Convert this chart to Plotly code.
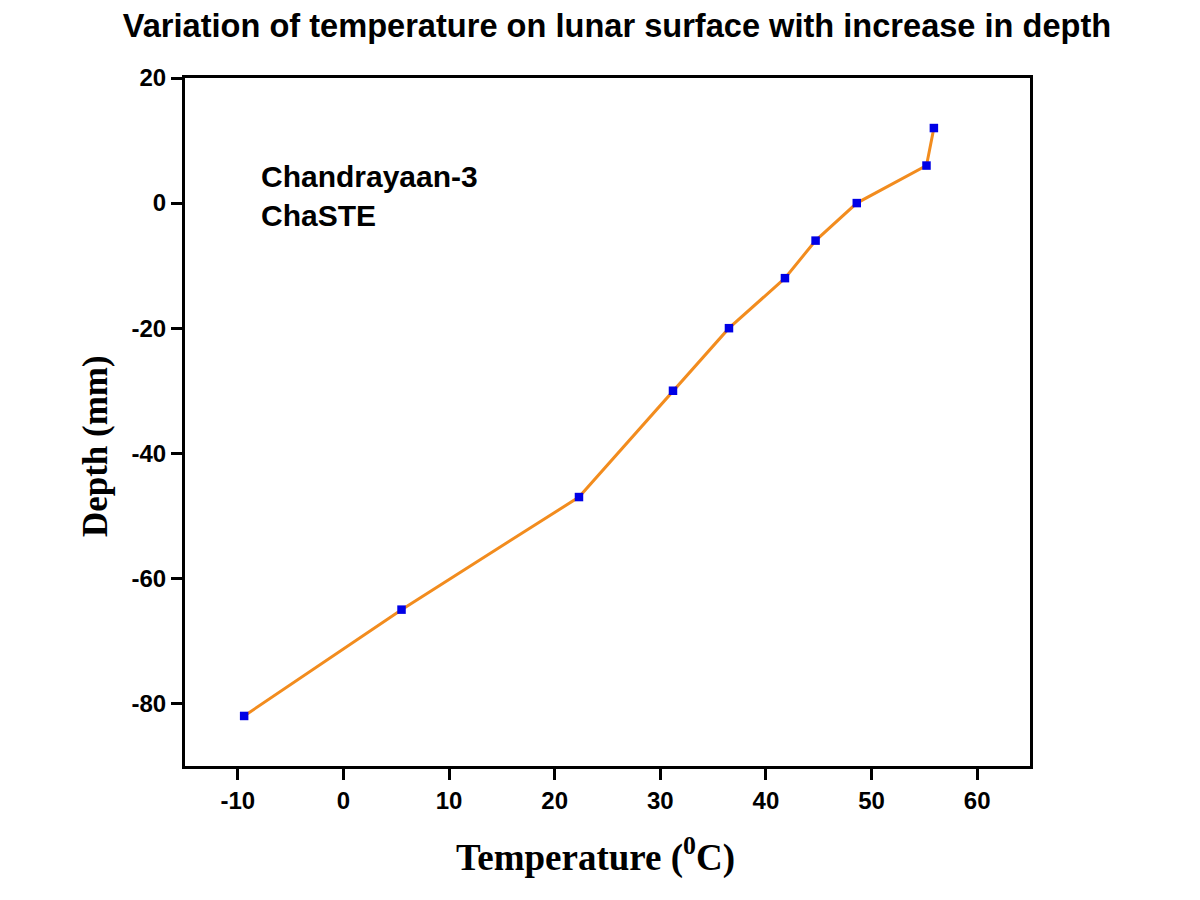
import plotly.graph_objects as go

temperature = [-9.4, 5.5, 22.3, 31.2, 36.5, 41.8, 44.7, 48.6, 55.2, 55.9]
depth = [-82, -65, -47, -30, -20, -12, -6, 0, 6, 12]
x_ticks = [-10, 0, 10, 20, 30, 40, 50, 60]
x_tick_text = ["-10", "0", "10", "20", "30", "40", "50", "60"]
y_ticks = [-80, -60, -40, -20, 0, 20]
y_tick_text = ["-80", "-60", "-40", "-20", "0", "20"]

fig = go.Figure()
fig.add_trace(go.Scatter(
    x=temperature, y=depth, mode="lines+markers",
    line=dict(color="#F28C1E", width=3),
    marker=dict(symbol="square", size=8.5, color="#0000E6"),
    showlegend=False,
))

fig.add_annotation(
    text="Chandrayaan-3<br>ChaSTE", xref="x", yref="y", x=-8, y=1.1,
    xanchor="left", yanchor="middle", align="left", showarrow=False,
    font=dict(family="Liberation Sans", size=30, color="black", weight="bold"),
)
fig.add_annotation(
    text="Temperature (<sup>0</sup>C)", xref="paper", yref="paper",
    x=0.486, y=-0.129, xanchor="center", yanchor="middle", showarrow=False,
    font=dict(family="Liberation Serif", size=37, color="black", weight="bold"),
)
fig.add_annotation(
    text="Depth (mm)", xref="paper", yref="paper", textangle=-90,
    x=-0.1065, y=0.465, xanchor="center", yanchor="middle", showarrow=False,
    font=dict(family="Liberation Serif", size=35, color="black", weight="bold"),
)

fig.update_layout(
    width=1200, height=900,
    margin=dict(l=177, r=178, t=70, b=142),
    paper_bgcolor="white", plot_bgcolor="white",
    title=dict(
        text="Variation of temperature on lunar surface with increase in depth",
        x=0.5075, xref="container", xanchor="center",
        y=0.98, yref="container", yanchor="middle",
        font=dict(family="Liberation Sans", size=32.6, color="black", weight="bold"),
    ),
)
fig.update_xaxes(
    range=[-15, 65], tickvals=x_ticks, ticktext=x_tick_text,
    showgrid=False, zeroline=False,
    showline=True, linecolor="black", linewidth=3, mirror=True,
    ticks="outside", ticklen=11, tickwidth=3, tickcolor="black",
    tickfont=dict(family="Liberation Sans", size=24, color="black", weight="bold"),
)
fig.update_yaxes(
    range=[-90, 20], tickvals=y_ticks, ticktext=y_tick_text,
    showgrid=False, zeroline=False,
    showline=True, linecolor="black", linewidth=3, mirror=True,
    ticks="outside", ticklen=11, tickwidth=3, tickcolor="black",
    tickfont=dict(family="Liberation Sans", size=24, color="black", weight="bold"),
)

fig.write_html("out.html")
